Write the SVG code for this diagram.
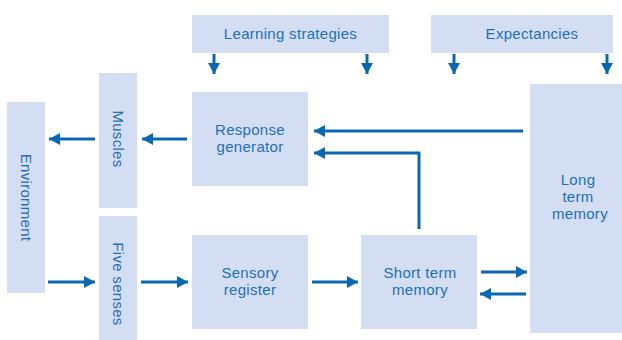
<svg xmlns="http://www.w3.org/2000/svg" width="622" height="340" viewBox="0 0 622 340">
  <style>
    .box { fill: #d3def2; }
    .lbl { fill: #1f6fb5; font-family: "Liberation Sans", Arial, sans-serif; font-size: 15px; letter-spacing: 0.3px; text-anchor: middle; }
    .conn { stroke: #0a67b1; stroke-width: 3; fill: none; }
  </style>
  <defs>
    <marker id="arrow" markerUnits="userSpaceOnUse" markerWidth="13" markerHeight="13" refX="11" refY="6.5" orient="auto">
      <path d="M0,0.5 L11,6.5 L0,12.5 Z" fill="#0a67b1"/>
    </marker>
  </defs>
  <rect width="622" height="340" fill="#ffffff"/>

  <g id="learning-strategies">
    <rect class="box" x="192" y="15" width="197" height="38"/>
    <text class="lbl" x="290.5" y="39">Learning strategies</text>
  </g>
  <g id="expectancies">
    <rect class="box" x="431" y="15" width="182" height="38"/>
    <text class="lbl" x="532" y="39">Expectancies</text>
  </g>
  <g id="environment">
    <rect class="box" x="7" y="102" width="38" height="191"/>
    <text class="lbl" transform="translate(26,197.5) rotate(90)" y="5">Environment</text>
  </g>
  <g id="muscles">
    <rect class="box" x="99" y="73" width="38" height="135"/>
    <text class="lbl" transform="translate(118,139) rotate(90)" y="5">Muscles</text>
  </g>
  <g id="five-senses">
    <rect class="box" x="99" y="216" width="38" height="124"/>
    <text class="lbl" transform="translate(118,284) rotate(90)" y="5">Five senses</text>
  </g>
  <g id="response-generator">
    <rect class="box" x="192" y="92" width="116" height="94"/>
    <text class="lbl" y="135"><tspan x="250">Response</tspan><tspan x="250" dy="17">generator</tspan></text>
  </g>
  <g id="sensory-register">
    <rect class="box" x="192" y="235" width="116" height="94"/>
    <text class="lbl" y="278"><tspan x="250">Sensory</tspan><tspan x="250" dy="17">register</tspan></text>
  </g>
  <g id="short-term-memory">
    <rect class="box" x="361" y="235" width="116" height="94"/>
    <text class="lbl" y="278"><tspan x="420">Short term</tspan><tspan x="420" dy="17">memory</tspan></text>
  </g>
  <g id="long-term-memory">
    <rect class="box" x="530" y="84" width="92" height="249"/>
    <text class="lbl" y="185"><tspan x="578">Long</tspan><tspan x="578" dy="17">term</tspan><tspan x="580" dy="17">memory</tspan></text>
  </g>

  <g id="connectors">
    <line class="conn" x1="214" y1="54" x2="214" y2="74" marker-end="url(#arrow)"/>
    <line class="conn" x1="367" y1="54" x2="367" y2="74" marker-end="url(#arrow)"/>
    <line class="conn" x1="454" y1="54" x2="454" y2="74" marker-end="url(#arrow)"/>
    <line class="conn" x1="607" y1="54" x2="607" y2="74" marker-end="url(#arrow)"/>
    <line class="conn" x1="95" y1="139" x2="49" y2="139" marker-end="url(#arrow)"/>
    <line class="conn" x1="187" y1="139" x2="142" y2="139" marker-end="url(#arrow)"/>
    <line class="conn" x1="48" y1="282" x2="95" y2="282" marker-end="url(#arrow)"/>
    <line class="conn" x1="141" y1="282" x2="188" y2="282" marker-end="url(#arrow)"/>
    <line class="conn" x1="312" y1="282" x2="358" y2="282" marker-end="url(#arrow)"/>
    <line class="conn" x1="481" y1="272" x2="527" y2="272" marker-end="url(#arrow)"/>
    <line class="conn" x1="526" y1="294" x2="480" y2="294" marker-end="url(#arrow)"/>
    <line class="conn" x1="523" y1="131" x2="314" y2="131" marker-end="url(#arrow)"/>
    <polyline class="conn" points="419,229 419,153 314,153" marker-end="url(#arrow)"/>
  </g>
</svg>
